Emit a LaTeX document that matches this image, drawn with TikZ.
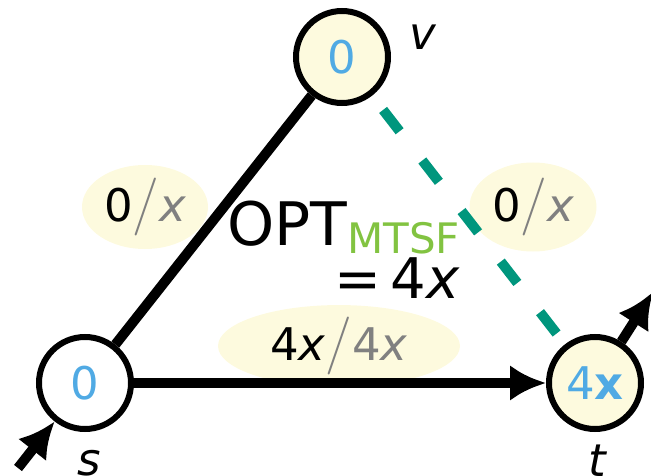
\documentclass[tikz,border=0pt]{standalone}
\usepackage{fix-cm}
\usepackage{fontspec}
\setmainfont{DejaVu Sans}
\usetikzlibrary{arrows.meta,shapes.geometric}

\definecolor{numblue}{RGB}{80,170,228}
\definecolor{paleyellow}{RGB}{253,250,222}
\definecolor{tealdash}{RGB}{0,150,125}
\definecolor{mtsfgreen}{RGB}{130,195,65}
\definecolor{capgray}{RGB}{128,128,128}

% flow / capacity label: value, slash, capacity
\newcommand{\flowcap}[2]{#1{\color{capgray}\fontsize{58}{58}\selectfont$/$}{\color{capgray}#2}}

\tikzset{
  big/.style={font=\fontsize{45}{54}\selectfont},
  vertex/.style={circle, draw=black, line width=6pt, minimum size=92pt,
                 inner sep=0pt, big, text=numblue},
  caplabel/.style={ellipse, fill=paleyellow, inner sep=0pt, big},
  vname/.style={big, font=\fontsize{45}{54}\selectfont\itshape},
  edge/.style={line width=10pt, draw=black},
  arr/.style={line width=10pt, draw=black, -{Latex[length=36pt,width=36pt]}},
  cut/.style={line width=10pt, draw=tealdash, dash pattern=on 27pt off 37pt,
              dash phase=46pt}
}

\begin{document}
\begin{tikzpicture}[x=1pt, y=-1pt]
  \useasboundingbox (0,0) rectangle (651,476);

  % capacity labels sit underneath the edges
  \node[caplabel, minimum width=126pt, minimum height=84pt] (lsv) at (145,207)
    {\flowcap{0}{\itshape x}};
  \node[caplabel, minimum width=127pt, minimum height=89pt] (lvt) at (533,207)
    {\flowcap{0}{\itshape x}};
  \node[caplabel, minimum width=242pt, minimum height=76pt] (lst) at (339,346)
    {\flowcap{4\textit{x}}{4\textit{x}}};

  % vertices
  \node[vertex, fill=white] (s) at (85,383) {0};
  \node[vertex, fill=paleyellow] (v) at (342,57) {0};
  \node[vertex, fill=paleyellow] (t) at (595,383) {4\textbf{x}};

  \coordinate (src) at (18,468);
  \coordinate (snk) at (653,292);

  % edges
  \draw[edge] (s) -- (v);
  \draw[arr] (s) -- (t);
  \draw[cut] (v) -- (t);
  \draw[arr] (src) -- (s);
  \draw[arr] (t) -- (snk);

  % vertex names
  \node[vname, anchor=base] (sname) at (89,475) {s};
  \node[vname, anchor=base west] (vname) at (406,50) {v};
  \node[vname, anchor=base] (tname) at (597,476) {t};

  % optimum value
  \node[anchor=base west, inner sep=0pt, font=\fontsize{60}{72}\selectfont] (opt) at (227,245)
    {OPT\raisebox{-8pt}{\color{mtsfgreen}\fontsize{42}{50}\selectfont MTSF}};
  \node[anchor=base east, inner sep=0pt, font=\fontsize{56}{68}\selectfont] (val) at (460,298)
    {=\,4\textit{x}};
\end{tikzpicture}
\end{document}
